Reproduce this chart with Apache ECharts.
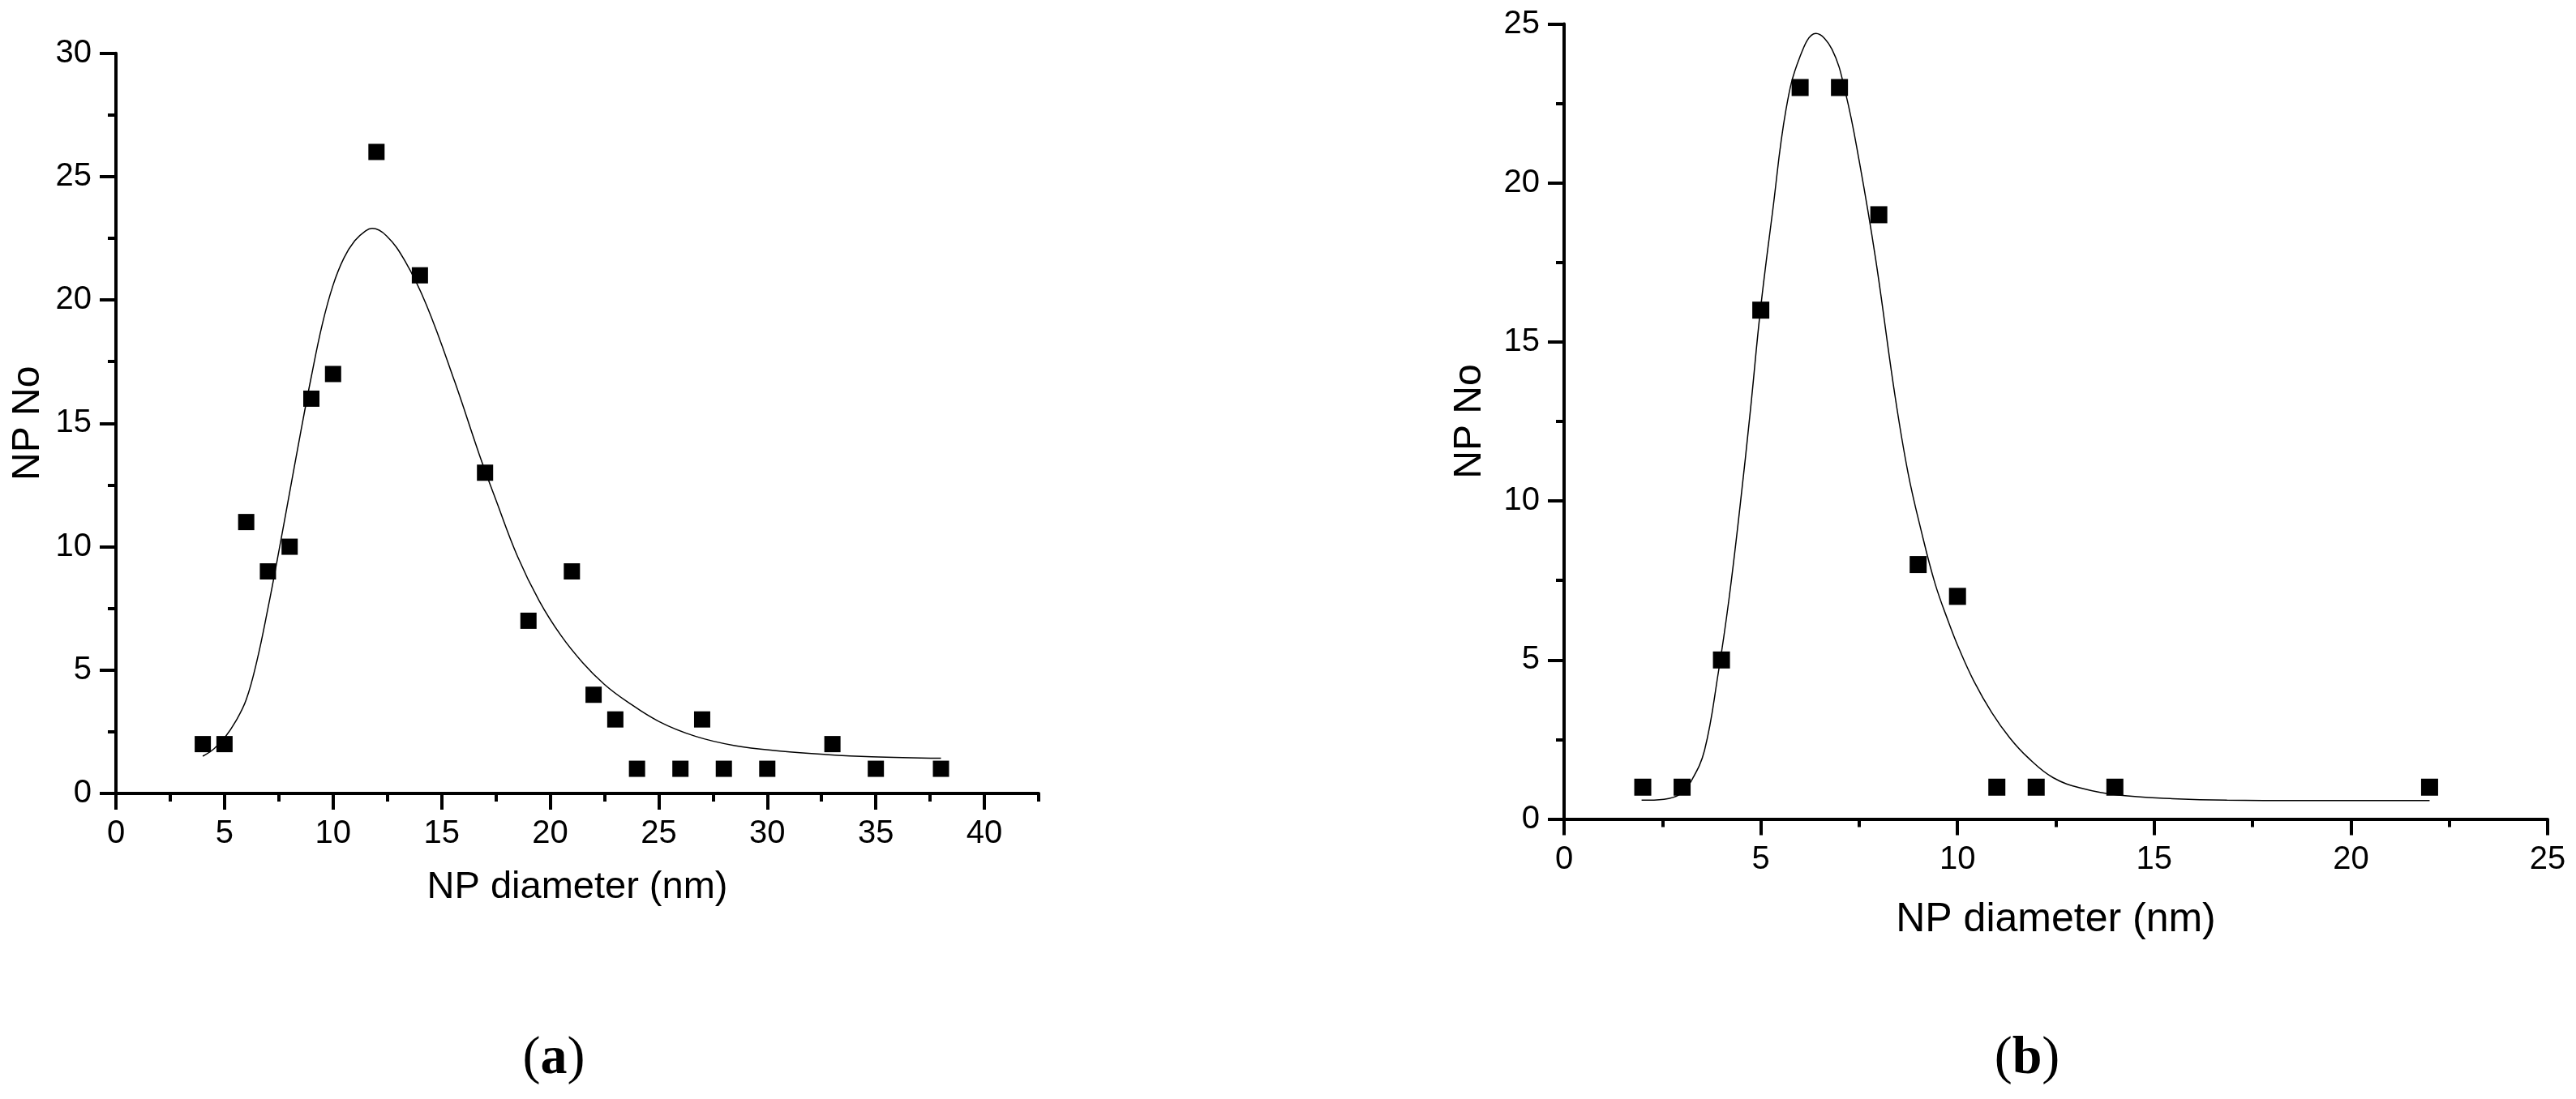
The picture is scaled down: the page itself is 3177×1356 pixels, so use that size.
<!DOCTYPE html>
<html>
<head>
<meta charset="utf-8">
<script src="https://cdn.jsdelivr.net/npm/echarts@6/dist/echarts.min.js"></script>
<style>
html,body{margin:0;padding:0;background:#fff;}
#chart{width:3177px;height:1356px;}
</style>
</head>
<body>
<div id="chart"></div>
<script>
// Panel (a) measured histogram points
const diamA = [4, 5, 6, 7, 8, 9, 10, 12, 14, 17, 19, 21, 22, 23, 24, 26, 27, 28, 30, 33, 35, 38];
const countA = [2, 2, 11, 9, 10, 16, 17, 26, 21, 13, 7, 9, 4, 3, 1, 1, 3, 1, 1, 2, 1, 1];
// Panel (a) fitted curve
const fitAx = [4.0, 4.5, 5.0, 5.5, 6.0, 6.5, 7.0, 7.5, 8.0, 8.5, 9.0, 9.5, 10.0, 10.5, 11.0, 11.5, 11.8, 12.46, 13.3, 14.3, 15.6, 16.75, 17.5, 18.5, 19.5, 20.5, 21.5, 22.5, 23.5, 25.0, 26.68, 28.5, 30.6, 32.7, 34.8, 38.0];
const fitAy = [1.51, 1.8, 2.25, 2.9, 3.8, 5.4, 7.5, 9.8, 12.2, 14.6, 16.9, 19.0, 20.6, 21.7, 22.4, 22.8, 22.9, 22.6, 21.6, 19.8, 16.7, 13.7, 11.9, 9.6, 7.8, 6.4, 5.3, 4.42, 3.75, 2.92, 2.32, 1.94, 1.72, 1.58, 1.49, 1.43];

// Panel (b) measured histogram points
const diamB = [2, 3, 4, 5, 6, 7, 8, 9, 10, 11, 12, 14, 22];
const countB = [1, 1, 5, 16, 23, 23, 19, 8, 7, 1, 1, 1, 1];
// Panel (b) fitted curve
const fitBx = [1.97, 2.54, 2.95, 3.23, 3.57, 3.92, 4.19, 4.47, 4.74, 4.99, 5.3, 5.64, 5.99, 6.4, 6.81, 7.16, 7.5, 7.92, 8.4, 8.74, 9.09, 9.43, 9.77, 10.04, 10.41, 10.87, 11.33, 11.8, 12.43, 13.17, 14.09, 15.46, 16.85, 18.7, 22.0];
const fitBy = [0.59, 0.62, 0.78, 1.19, 2.16, 4.6, 6.9, 9.8, 12.9, 16.0, 19.1, 22.3, 23.95, 24.7, 24.2, 22.8, 20.7, 17.6, 13.4, 10.9, 9.0, 7.4, 6.2, 5.35, 4.35, 3.35, 2.55, 1.92, 1.30, 0.96, 0.75, 0.64, 0.59, 0.58, 0.58];

// Tick labels
const xMajorA = [0, 5, 10, 15, 20, 25, 30, 35, 40];
const xMaxA = 42.5;
const yMaxA = 30;
const xMaxB = 25;
const yMaxB = 25;

const titleX = 'NP diameter (nm)';
const titleY = 'NP No';
const panelA = 'a';
const panelB = 'b';

const FONT = '"Liberation Sans", Arial, sans-serif';
const black = '#000';

function zip(a, b) { return a.map((v, i) => [v, b[i]]); }

const axisLineStyle = { show: true, lineStyle: { color: black, width: 4 } };
const majorTick = { show: true, length: 20, lineStyle: { color: black, width: 4 } };
const minorTickStyle = { show: true, splitNumber: 2, length: 10, lineStyle: { color: black, width: 4 } };
const labelStyle = { color: black, fontSize: 40, fontFamily: FONT, margin: 30 };

function yAxis(gridIndex, max, gap) {
  return {
    type: 'value', gridIndex, min: 0, max, interval: 5,
    name: titleY, nameLocation: 'middle', nameGap: gap,
    nameTextStyle: { color: black, fontSize: 48, fontFamily: FONT },
    axisLine: axisLineStyle, axisTick: majorTick, minorTick: minorTickStyle,
    axisLabel: labelStyle, splitLine: { show: false }, minorSplitLine: { show: false }
  };
}

const option = {
  backgroundColor: '#fff',
  animation: false,
  grid: [
    { left: 143, top: 65.7, width: 1138, height: 913.3, containLabel: false, outerBoundsMode: 'none' },
    { left: 1929, top: 29.5, width: 1213, height: 981, containLabel: false, outerBoundsMode: 'none' }
  ],
  xAxis: [
    {
      type: 'value', gridIndex: 0, min: 0, max: xMaxA, interval: 5, position: 'bottom',
      name: titleX, nameLocation: 'middle', nameGap: 93,
      nameTextStyle: { color: black, fontSize: 47, fontFamily: FONT },
      axisLine: axisLineStyle,
      axisTick: Object.assign({}, majorTick, { customValues: xMajorA }),
      axisLabel: Object.assign({}, labelStyle, { customValues: xMajorA }),
      splitLine: { show: false }
    },
    {
      type: 'value', gridIndex: 0, min: 0, max: xMaxA, interval: 2.5, position: 'bottom',
      axisLine: { show: false },
      axisTick: { show: true, length: 10, lineStyle: { color: black, width: 4 } },
      axisLabel: { show: false }, splitLine: { show: false }
    },
    {
      type: 'value', gridIndex: 1, min: 0, max: xMaxB, interval: 5, position: 'bottom',
      name: titleX, nameLocation: 'middle', nameGap: 100,
      nameTextStyle: { color: black, fontSize: 50, fontFamily: FONT },
      axisLine: axisLineStyle, axisTick: majorTick, minorTick: minorTickStyle,
      axisLabel: labelStyle, splitLine: { show: false }, minorSplitLine: { show: false }
    }
  ],
  yAxis: [yAxis(0, yMaxA, 84), yAxis(1, yMaxB, 92)],
  series: [
    { type: 'line', xAxisIndex: 0, yAxisIndex: 0, data: zip(fitAx, fitAy), smooth: 0.4, showSymbol: false,
      lineStyle: { color: black, width: 1.5 }, z: 2 },
    { type: 'scatter', xAxisIndex: 0, yAxisIndex: 0, data: zip(diamA, countA), symbol: 'rect', symbolSize: 20,
      itemStyle: { color: black, opacity: 1 }, z: 3 },
    { type: 'line', xAxisIndex: 2, yAxisIndex: 1, data: zip(fitBx, fitBy), smooth: 0.4, showSymbol: false,
      lineStyle: { color: black, width: 1.5 }, z: 2 },
    { type: 'scatter', xAxisIndex: 2, yAxisIndex: 1, data: zip(diamB, countB), symbol: 'rect', symbolSize: 21,
      itemStyle: { color: black, opacity: 1 }, z: 3 }
  ],
  graphic: [
    { type: 'text', x: 683, y: 1307, style: {
        text: '{p|(}{b|' + panelA + '}{p|)}', align: 'center', verticalAlign: 'middle', fill: black,
        rich: { p: { fontSize: 66, fontFamily: '"Liberation Serif", serif', fill: black },
                b: { fontSize: 66, fontWeight: 'bold', fontFamily: '"Liberation Serif", serif', fill: black } } } },
    { type: 'text', x: 2500, y: 1307, style: {
        text: '{p|(}{b|' + panelB + '}{p|)}', align: 'center', verticalAlign: 'middle', fill: black,
        rich: { p: { fontSize: 66, fontFamily: '"Liberation Serif", serif', fill: black },
                b: { fontSize: 66, fontWeight: 'bold', fontFamily: '"Liberation Serif", serif', fill: black } } } }
  ]
};

const chart = echarts.init(document.getElementById('chart'), null, { renderer: 'canvas' });
chart.setOption(option);
</script>
</body>
</html>
